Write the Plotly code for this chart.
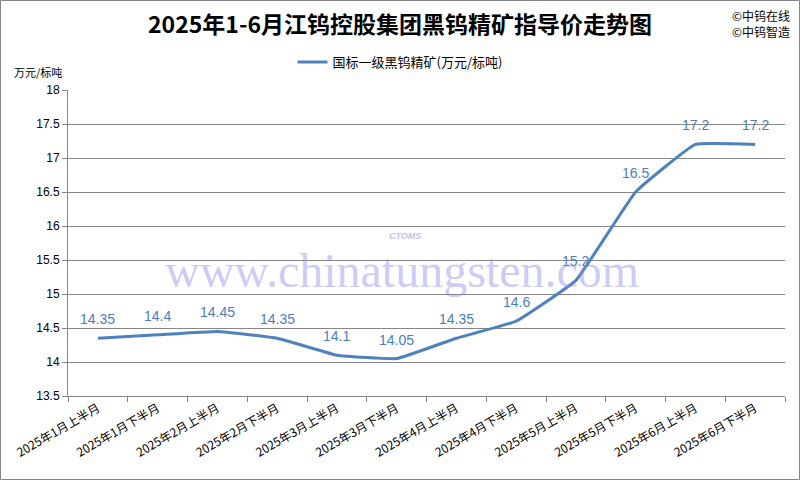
import plotly.graph_objects as go

categories = ["2025年1月上半月", "2025年1月下半月", "2025年2月上半月", "2025年2月下半月",
              "2025年3月上半月", "2025年3月下半月", "2025年4月上半月", "2025年4月下半月",
              "2025年5月上半月", "2025年5月下半月", "2025年6月上半月", "2025年6月下半月"]
prices = [14.35, 14.4, 14.45, 14.35, 14.1, 14.05, 14.35, 14.6, 15.2, 16.5, 17.2, 17.2]
labels = ["14.35", "14.4", "14.45", "14.35", "14.1", "14.05", "14.35", "14.6", "15.2", "16.5", "17.2", "17.2"]
series_name = "国标一级黑钨精矿(万元/标吨)"
y_ticks = [13.5, 14, 14.5, 15, 15.5, 16, 16.5, 17, 17.5, 18]

L, R, T, B = 68, 15, 90, 84
W, H = 800, 480
pw, ph = W - L - R, H - T - B

def px(x):
    return (x - L) / pw

def py(y):
    return (H - B - y) / ph

fig = go.Figure()
fig.add_trace(go.Scatter(
    x=categories, y=prices, mode="lines", name=series_name,
    line=dict(color="#4F81BD", width=3, shape="spline", smoothing=0.3),
    showlegend=True,
))

for c, v, t in zip(categories, prices, labels):
    fig.add_annotation(x=c, y=v, text=t, showarrow=False, yshift=19,
                       font=dict(color="#4A7EBB", size=14, family="Liberation Sans"))

fig.update_layout(
    width=W, height=H,
    margin=dict(l=L, r=R, t=T, b=B, autoexpand=False),
    paper_bgcolor="white", plot_bgcolor="white",
    font=dict(family="Noto Sans CJK SC, Liberation Sans", color="#000000"),
    title=dict(text="<b>2025年1-6月江钨控股集团黑钨精矿指导价走势图</b>",
               x=0.5, xanchor="center", y=1 - 25 / H, yanchor="middle",
               font=dict(size=23, family="Noto Sans CJK SC", color="#000000")),
    legend=dict(orientation="h", x=px(400), xanchor="center", y=py(62), yanchor="middle",
                font=dict(size=13, family="Noto Sans CJK SC"), bgcolor="rgba(0,0,0,0)"),
    xaxis=dict(type="category", tickson="boundaries", ticks="outside", ticklen=5,
               tickcolor="#868686", showline=True, linecolor="#868686", linewidth=1,
               showgrid=False, tickangle=-30, automargin=False,
               tickfont=dict(size=12, family="Noto Sans CJK SC", color="#000000"),
               range=[-0.5, 11.5]),
    yaxis=dict(range=[13.5, 18], tickvals=y_ticks, ticktext=[str(v) for v in y_ticks],
               showgrid=True, gridcolor="#868686", gridwidth=1, automargin=False,
               showline=True, linecolor="#868686", linewidth=1,
               ticks="outside", ticklen=5, tickcolor="#868686",
               tickfont=dict(size=12, family="Liberation Sans", color="#000000"),
               zeroline=False),
)

# watermark
fig.add_annotation(text="www.chinatungsten.com", xref="paper", yref="paper",
                   x=px(402), y=py(270), xanchor="center", yanchor="middle", showarrow=False,
                   font=dict(size=48, family="Liberation Serif", color="rgba(140,140,235,0.45)"))
fig.add_annotation(text="<i><b>CTOMS</b></i>", xref="paper", yref="paper",
                   x=px(405), y=py(236), xanchor="center", yanchor="middle", showarrow=False,
                   font=dict(size=9, family="Liberation Sans", color="rgba(140,140,235,0.55)"))

# y axis unit
fig.add_annotation(text="万元/标吨", xref="paper", yref="paper", x=px(38), y=py(72),
                   xanchor="center", yanchor="middle",
                   showarrow=False, font=dict(size=11, family="Noto Sans CJK SC"))
# copyright
fig.add_annotation(text="©中钨在线<br>©中钨智造", xref="paper", yref="paper",
                   x=px(792), y=py(5), xanchor="right", yanchor="top", align="left",
                   showarrow=False, font=dict(size=12, family="Noto Sans CJK SC"))

# outer border
fig.add_shape(type="rect", xref="paper", yref="paper",
              x0=px(0.5), x1=px(799.5), y0=py(479.5), y1=py(0.5),
              line=dict(color="#868686", width=1))

fig.write_html("out.html", config={"displayModeBar": False},
               post_script="document.body.style.margin='0';document.body.style.padding='0';")
